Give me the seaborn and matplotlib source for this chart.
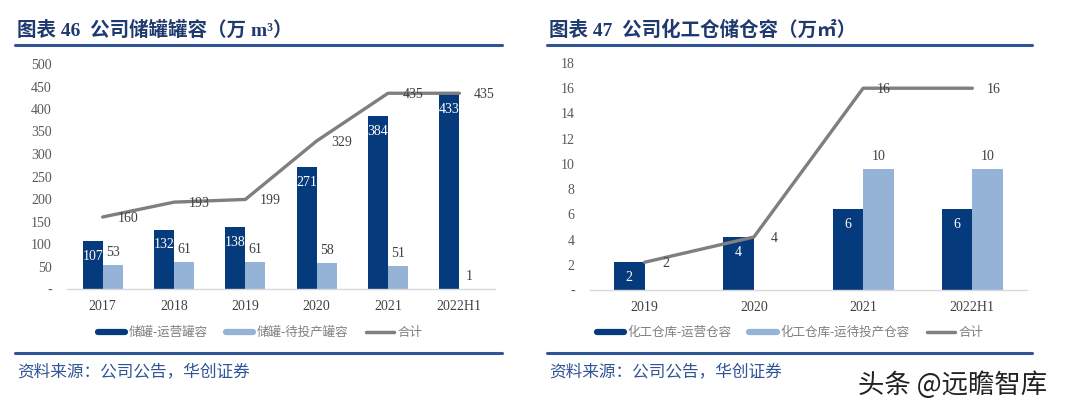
import matplotlib
matplotlib.use("Agg")
import matplotlib.pyplot as plt
from matplotlib.lines import Line2D
import seaborn as sns
import pandas as pd

# ---------------- data ----------------
years_l = ["2017", "2018", "2019", "2020", "2021", "2022H1"]
tank_operating = [107, 132, 138, 271, 384, 433]
tank_pending = [53, 61, 61, 58, 51, 1]
tank_total = [160, 193, 199, 329, 435, 435]
labels_l = ["储罐-运营罐容", "储罐-待投产罐容", "合计"]

years_r = ["2019", "2020", "2021", "2022H1"]
wh_operating = [2.2, 4.2, 6.4, 6.4]
wh_pending = [0, 0, 9.6, 9.6]
wh_total = [2.2, 4.2, 16, 16]
labels_r = ["化工仓库-运营仓容", "化工仓库-运待投产仓容", "合计"]

title_l = "图表 46  公司储罐罐容（万 m³）"
title_r = "图表 47  公司化工仓储仓容（万㎡）"
source = "资料来源：公司公告，华创证券"
watermark = "头条 @远瞻智库"

# ---------------- style ----------------
sns.set_theme(style="white")
plt.rcParams["font.family"] = ["Liberation Serif", "Noto Sans CJK SC"]

DARK = "#053A7C"
LIGHT = "#95B3D7"
GRAY = "#7F7F7F"
BLUE = "#2F5597"
TITLE = "#1F3A6E"

W, H = 1080, 411
fig = plt.figure(figsize=(W / 100, H / 100), dpi=100)


def px_axes(x0, y_top, x1, y_bot):
    return fig.add_axes([x0 / W, 1 - y_bot / H, (x1 - x0) / W, (y_bot - y_top) / H])


def draw(ax, cats, op, pend, total, ymax, ystep, lab_fmt, line_dx):
    df = pd.DataFrame({
        "cat": cats * 2,
        "val": list(op) + list(pend),
        "kind": ["op"] * len(cats) + ["pend"] * len(cats),
    })
    sns.barplot(data=df, x="cat", y="val", hue="kind", order=cats,
                hue_order=["op", "pend"], palette=[DARK, LIGHT],
                width=0.56, gap=0, saturation=1, legend=False, ax=ax,
                edgecolor="none")
    sns.pointplot(x=cats, y=total, order=cats, color=GRAY, markers="",
                  linewidth=2.4, errorbar=None, ax=ax)
    for cont, color, dy in [(ax.containers[0], "white", -11), (ax.containers[1], "#404040", 9)]:
        for rect in cont:
            h = rect.get_height()
            if h <= 0:
                continue
            ax.annotate(lab_fmt(h), (rect.get_x() + rect.get_width() / 2, h),
                        xytext=(0, dy), textcoords="offset points",
                        ha="center", va="center", color=color, fontsize=10)
    for i, v in enumerate(total):
        ax.annotate(lab_fmt(v), (i, v), xytext=(line_dx, -1), textcoords="offset points",
                    ha="center", va="center", color="#404040", fontsize=10)
    ax.set_xlim(-0.5, len(cats) - 0.5)
    ax.set_ylim(0, ymax)
    ticks = list(range(0, ymax + 1, ystep))
    ax.set_yticks(ticks)
    ax.set_yticklabels(["-"] + [str(t) for t in ticks[1:]])
    ax.set_xlabel("")
    ax.set_ylabel("")
    for s in ["left", "right", "top"]:
        ax.spines[s].set_visible(False)
    ax.spines["bottom"].set_color("#D9D9D9")
    ax.spines["bottom"].set_linewidth(1)
    ax.tick_params(axis="y", length=0, pad=11, labelsize=10, labelcolor="#595959")
    ax.tick_params(axis="x", length=0, pad=8, labelsize=10, labelcolor="#404040")
    ax.grid(False)


fmt = lambda v: f"{v:.0f}"

ax1 = px_axes(67, 64, 495, 289)
draw(ax1, years_l, tank_operating, tank_pending, tank_total, 500, 50, fmt, 18)

ax2 = px_axes(590, 63, 1027, 290)
draw(ax2, years_r, wh_operating, wh_pending, wh_total, 18, 2, fmt, 15)


def legend(labels, cx):
    handles = [Line2D([], [], color=DARK, lw=4.5),
               Line2D([], [], color=LIGHT, lw=4.5),
               Line2D([], [], color=GRAY, lw=2.5)]
    leg = fig.legend(handles, labels, loc="center", bbox_to_anchor=(cx / W, 1 - 333 / H),
                     ncol=3, frameon=False, fontsize=9, handlelength=2.2,
                     handletextpad=0.3, columnspacing=1.4)
    for t in leg.get_texts():
        t.set_color("#7F7F7F")

legend(labels_l, 260)
legend(labels_r, 790)

for x0, x1, ttl in [(15, 502, title_l), (547, 1032, title_r)]:
    fig.text((x0 + 2) / W, 1 - 30 / H, ttl, fontsize=14, weight="bold",
             color=TITLE, va="center", ha="left")
    for y in (45, 353):
        fig.add_artist(Line2D([x0 / W, x1 / W], [1 - y / H] * 2, transform=fig.transFigure,
                              color=BLUE, lw=2.2))
    fig.text((x0 + 2) / W, 1 - 372 / H, source, fontsize=12, color=BLUE,
             style="italic", va="center", ha="left")

fig.text(858 / W, 1 - 385 / H, watermark, fontsize=19, color="#222222",
         family=["Noto Sans CJK SC", "DejaVu Sans"], va="center", ha="left")

fig.savefig("out.png", dpi=100)
